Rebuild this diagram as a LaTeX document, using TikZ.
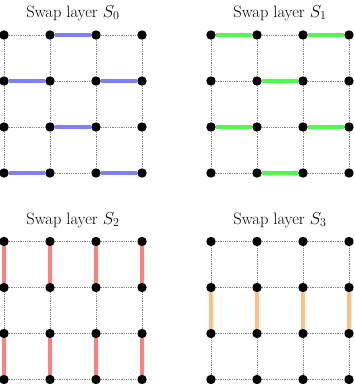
\documentclass[tikz,border=0pt]{standalone}
\begin{document}
\begin{tikzpicture}[x=1pt,y=-1pt,
  dot/.style={circle,fill=black,inner sep=0pt,minimum size=9.4pt},
  gridline/.style={gray,line width=0.9pt,dash pattern=on 0.9pt off 0.9pt},
  swapA/.style={blue!50,line width=3.5pt},
  swapB/.style={green!70,line width=3.5pt},
  swapC/.style={red!50,line width=3.5pt},
  swapD/.style={orange!50,line width=3.5pt},
  title/.style={anchor=base,inner sep=0pt,font=\fontsize{16.5}{20}\selectfont}]
\useasboundingbox (0,0) rectangle (354,384);
\node[title] (ta) at (73,17) {Swap layer $S_0$};
\node[title] (tb) at (280,17) {Swap layer $S_1$};
\node[title] (tc) at (73,224) {Swap layer $S_2$};
\node[title] (td) at (280,224) {Swap layer $S_3$};
\foreach \g/\ox/\oy in {a/4/35, b/211/35, c/4/241.5, d/211/241.5} {
  \foreach \r in {0,...,3} {
    \foreach \c in {0,...,3} {
      \node[dot] (\g-\r-\c) at (\ox+46*\c,\oy+46*\r) {};
    }
  }
  \foreach \r in {0,...,3} {
    \foreach \c [evaluate=\c as \n using int(\c+1)] in {0,...,2} {
      \draw[gridline] (\g-\r-\c) -- (\g-\r-\n);
      \draw[gridline] (\g-\c-\r) -- (\g-\n-\r);
    }
  }
}
% S0
\foreach \r/\c/\n in {0/1/2, 1/0/1, 1/2/3, 2/1/2, 3/0/1, 3/2/3}
  \draw[swapA] (a-\r-\c) -- (a-\r-\n);
% S1
\foreach \r/\c/\n in {0/0/1, 0/2/3, 1/1/2, 2/0/1, 2/2/3, 3/1/2}
  \draw[swapB] (b-\r-\c) -- (b-\r-\n);
% S2
\foreach \c in {0,...,3} {
  \draw[swapC] (c-0-\c) -- (c-1-\c);
  \draw[swapC] (c-2-\c) -- (c-3-\c);
}
% S3
\foreach \c in {0,...,3}
  \draw[swapD] (d-1-\c) -- (d-2-\c);
\end{tikzpicture}
\end{document}
